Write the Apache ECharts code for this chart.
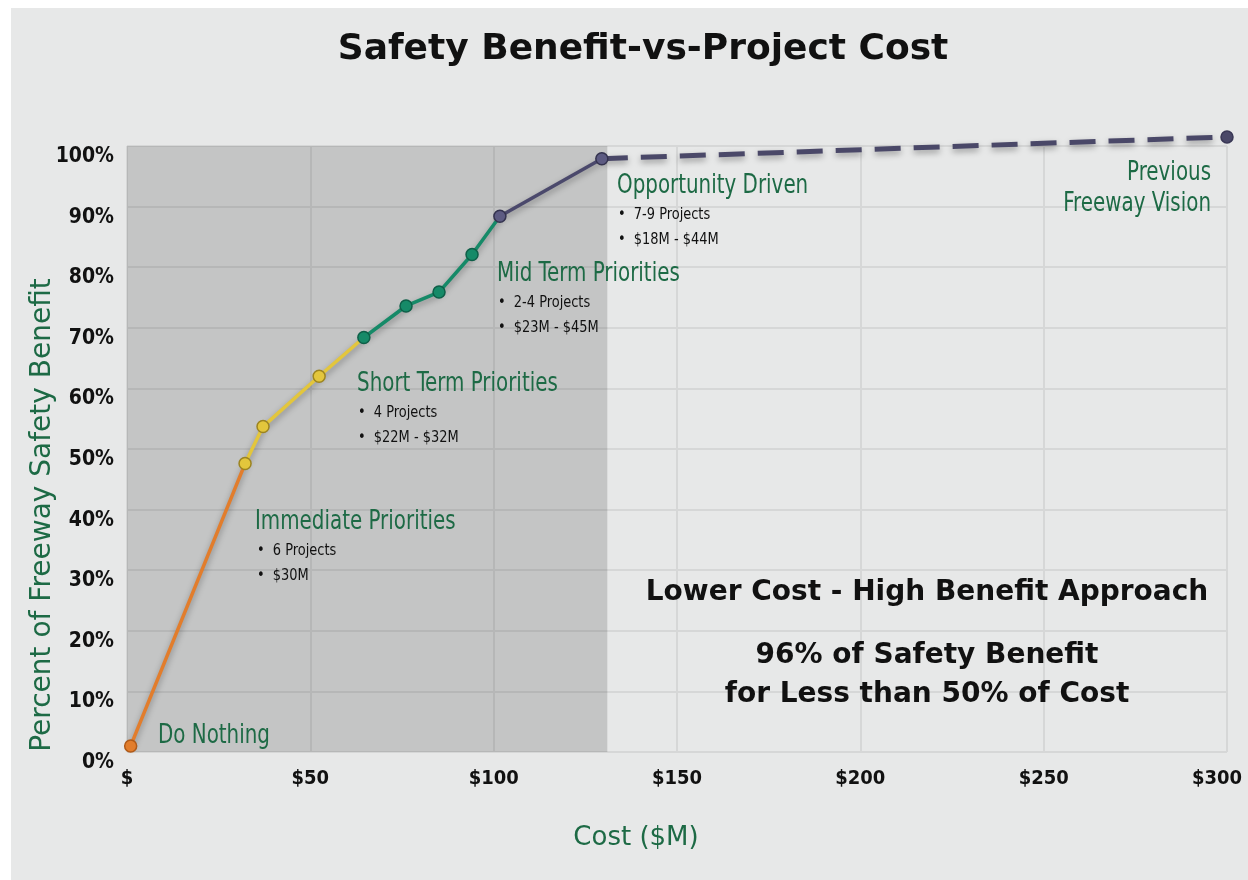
<!DOCTYPE html>
<html><head><meta charset="utf-8">
<script src="https://cdn.jsdelivr.net/npm/echarts@6/dist/echarts.min.js"></script>
<style>html,body{margin:0;padding:0;background:#fff}#c{width:1248px;height:880px}</style>
</head><body><div id="c"></div>
<script>
// ---- data (cost $M, % of freeway safety benefit) ----
const immediatePts = [[1, 1], [32.2, 47.6]];
const shortTermPts = [[32.2, 47.6], [37.1, 53.7], [52.4, 62.0], [64.6, 68.4]];
const midTermPts = [[64.6, 68.4], [76.1, 73.6], [85.1, 75.9], [94.1, 82.1], [101.7, 88.4]];
const opportunityPts = [[101.7, 88.4], [129.5, 97.9]];
const previousVisionPts = [[129.5, 97.9], [300, 101.5]];
const shadedRange = [0, 131];
const xTicks = [0, 50, 100, 150, 200, 250, 300];
const yTicks = [0, 10, 20, 30, 40, 50, 60, 70, 80, 90, 100];

const COND = "'DejaVu Sans Condensed','DejaVu Sans',sans-serif";
const WIDE = "'DejaVu Sans',sans-serif";
const GREEN = '#1d6a45';
const SX = 0.85;

function pts(arr, hideLast, hideFirst) {
  return arr.map((p, i) => {
    const hide = (hideLast && i === arr.length - 1) || (hideFirst && i === 0);
    return hide ? { value: p, symbol: 'none' } : { value: p };
  });
}
const shadow = { shadowBlur: 6, shadowColor: 'rgba(0,0,0,0.35)', shadowOffsetY: 3 };
function seg(name, data, color, border, extra) {
  return Object.assign({
    name, type: 'line', data, symbol: 'circle', symbolSize: 12, clip: false,
    lineStyle: Object.assign({ color, width: 3.5 }, shadow),
    itemStyle: { color, borderColor: border, borderWidth: 1.5 },
    emphasis: { disabled: true }, z: 5
  }, extra || {});
}
function head(x, y, text, align) {
  return { type: 'text', z: 10, x, y, scaleX: SX, style: { text, font: '26px ' + COND, fill: GREEN, align: align || 'left', verticalAlign: 'middle' } };
}
function bullet(x, y, text) {
  return { type: 'text', z: 10, x, y, scaleX: 0.9, style: { text: '•  ' + text, font: '16px ' + COND, fill: '#111', verticalAlign: 'middle' } };
}
function big(y, text) {
  return { type: 'text', z: 10, x: 927, y, style: { text, font: 'bold 28px ' + WIDE, fill: '#111', align: 'center', verticalAlign: 'middle' } };
}

const chart = echarts.init(document.getElementById('c'), null, { renderer: 'canvas' });
chart.setOption({
  animation: false,
  backgroundColor: '#ffffff',
  grid: { left: 127, right: 21, top: 146, bottom: 128, outerBoundsMode: 'none', containLabel: false },
  xAxis: {
    type: 'value', min: 0, max: 300, interval: 50,
    axisLine: { show: false }, axisTick: { show: false },
    splitLine: { show: true, lineStyle: { color: '#d6d7d7', width: 2 } },
    axisLabel: {
      margin: 17, fontFamily: COND, fontWeight: 'bold', fontSize: 20, color: '#111',
      formatter: v => xTicks.includes(v) ? (v === 0 ? '$' : (v === 300 ? '{r|$' + v + '}' : '$' + v)) : '',
      rich: { r: { fontFamily: COND, fontWeight: 'bold', fontSize: 20, color: '#111', padding: [0, 20, 0, 0] } }
    }
  },
  yAxis: {
    type: 'value', min: 0, max: 100, interval: 10,
    axisLine: { show: false }, axisTick: { show: false },
    splitLine: { show: true, lineStyle: { color: '#d6d7d7', width: 2 } },
    axisLabel: {
      margin: 13, fontFamily: COND, fontWeight: 'bold', fontSize: 21, color: '#111',
      verticalAlign: 'top',
      formatter: v => yTicks.includes(v) ? v + '%' : ''
    }
  },
  graphic: [
    { type: 'rect', z: -10, silent: true, shape: { x: 11, y: 8, width: 1237, height: 872 }, style: { fill: '#e7e8e8' } },
    { type: 'text', z: 10, x: 643, y: 50, style: { text: 'Safety Benefit-vs-Project Cost', font: 'bold 36px ' + WIDE, fill: '#111', align: 'center', verticalAlign: 'middle' } },
    { type: 'text', z: 10, x: 43, y: 515, rotation: Math.PI / 2, style: { text: 'Percent of Freeway Safety Benefit', font: '28px ' + WIDE, fill: GREEN, align: 'center', verticalAlign: 'middle' } },
    { type: 'text', z: 10, x: 636, y: 838, style: { text: 'Cost ($M)', font: '26px ' + WIDE, fill: GREEN, align: 'center', verticalAlign: 'middle' } },

    head(158, 736, 'Do Nothing'),
    head(255, 522, 'Immediate Priorities'),
    bullet(257, 551, '6 Projects'),
    bullet(257, 576, '$30M'),
    head(357, 384, 'Short Term Priorities'),
    bullet(358, 413, '4 Projects'),
    bullet(358, 438, '$22M - $32M'),
    head(497, 274, 'Mid Term Priorities'),
    bullet(498, 303, '2-4 Projects'),
    bullet(498, 328, '$23M - $45M'),
    head(617, 186, 'Opportunity Driven'),
    bullet(618, 215, '7-9 Projects'),
    bullet(618, 240, '$18M - $44M'),
    head(1211, 173, 'Previous', 'right'),
    head(1211, 204, 'Freeway Vision', 'right'),

    big(593, 'Lower Cost - High Benefit Approach'),
    big(656, '96% of Safety Benefit'),
    big(695, 'for Less than 50% of Cost')
  ],
  series: [
    {
      name: 'shade', type: 'line', data: [], silent: true, z: 1,
      markArea: {
        silent: true,
        itemStyle: { color: 'rgba(0,0,0,0.15)' },
        data: [[{ xAxis: shadedRange[0], yAxis: 0 }, { xAxis: shadedRange[1], yAxis: 100 }]]
      }
    },
    seg('Previous Freeway Vision', pts(previousVisionPts, false, true), '#4a4868', '#3a3856', {
      lineStyle: Object.assign({ color: '#4a4868', width: 5, type: [26, 13] }, shadow)
    }),
    seg('Opportunity Driven', pts(opportunityPts), '#4b496c', '#34334f', { itemStyle: { color: '#5d5b82', borderColor: '#34334f', borderWidth: 1.5 } }),
    seg('Mid Term Priorities', pts(midTermPts, true), '#168a68', '#0e5f48'),
    seg('Short Term Priorities', pts(shortTermPts, true), '#e3c63c', '#9c8420'),
    seg('Immediate Priorities', pts(immediatePts, true), '#e27d2c', '#b05a18')
  ]
});
</script></body></html>
